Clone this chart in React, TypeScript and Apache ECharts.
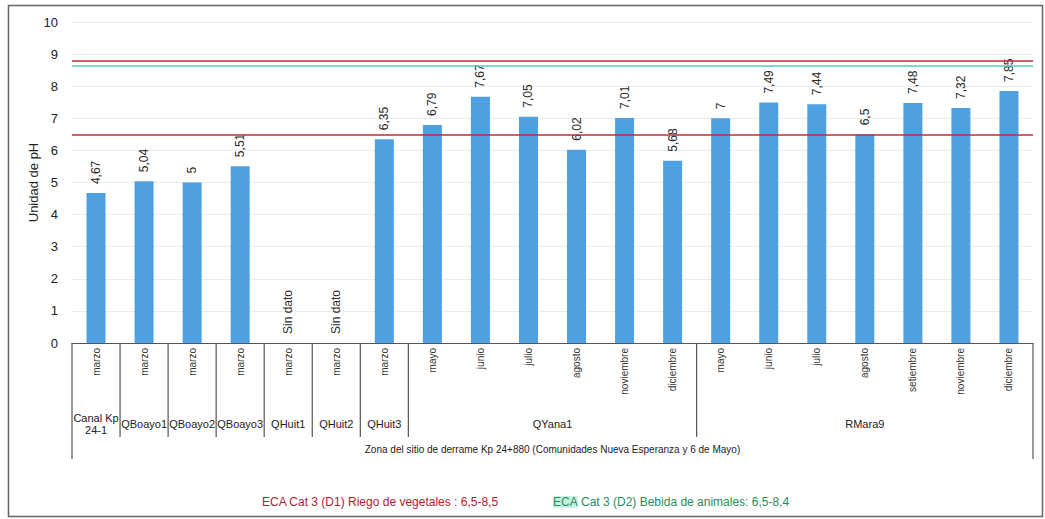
import React, { useEffect, useRef } from "react";
import * as echarts from "echarts";

const months = [
  "marzo", "marzo", "marzo", "marzo", "marzo", "marzo", "marzo",
  "mayo", "junio", "julio", "agosto", "noviembre", "diciembre",
  "mayo", "junio", "julio", "agosto", "setiembre", "noviembre", "diciembre",
];
const phValues: (number | null)[] = [
  4.67, 5.04, 5, 5.51, null, null, 6.35,
  6.79, 7.67, 7.05, 6.02, 7.01, 5.68,
  7, 7.49, 7.44, 6.5, 7.48, 7.32, 7.85,
];
const sites = ["Canal Kp\n24-1", "QBoayo1", "QBoayo2", "QBoayo3", "QHuit1", "QHuit2", "QHuit3", "QYana1", "RMara9"];
const siteSpans = [1, 1, 1, 1, 1, 1, 1, 6, 7];
const zoneTitle = "Zona del sitio de derrame Kp 24+880 (Comunidades Nueva Esperanza y 6 de Mayo)";
const noDataLabel = "Sin dato";
const yAxisName = "Unidad de pH";
const limitD1Upper = 8.8;
const limitD2Upper = 8.65;
const limitLower = 6.5;
const legendD1 = "ECA Cat 3 (D1) Riego de vegetales : 6,5-8,5";
const legendD2Prefix = "ECA";
const legendD2Rest = " Cat 3 (D2) Bebida de animales: 6,5-8,4";

const FONT = "'Liberation Sans', Arial, sans-serif";
const RED = "#c42a3c";
const TEAL = "#58c9c2";
const BAR = "#4fa0e0";

export default function App() {
  const ref = useRef<HTMLDivElement>(null);

  useEffect(() => {
    if (!ref.current) return;
    const chart = echarts.init(ref.current, null, { renderer: "svg" });
    const fmt = (v: number) => String(v).replace(".", ",");

    chart.setOption({
      animation: false,
      backgroundColor: "#ffffff",
      grid: { left: 72, right: 12, top: 22, bottom: 176, containLabel: false },
      xAxis: {
        type: "category",
        data: months,
        boundaryGap: true,
        axisLine: { lineStyle: { color: "#555", width: 1.2 } },
        axisTick: { show: false },
        axisLabel: {
          interval: 0,
          rotate: 90,
          fontSize: 10,
          color: "#333",
          fontFamily: FONT,
          margin: 5,
        },
        splitLine: { show: false },
      },
      yAxis: {
        type: "value",
        min: 0,
        max: 10,
        interval: 1,
        name: yAxisName,
        nameLocation: "middle",
        nameGap: 32,
        nameMoveOverlap: false,
        nameRotate: 90,
        nameTextStyle: { fontSize: 13, color: "#222", fontFamily: FONT },
        axisLine: { show: false },
        axisTick: { show: false },
        axisLabel: { fontSize: 13, color: "#222", fontFamily: FONT, margin: 14 },
        splitLine: { lineStyle: { color: "#ebebeb", width: 1 } },
      },
      series: [
        {
          type: "bar",
          barWidth: 19,
          itemStyle: { color: BAR },
          data: phValues.map((v) =>
            v === null
              ? { value: 0, label: { formatter: noDataLabel } }
              : v
          ),
          label: {
            show: true,
            position: "top",
            rotate: 90,
            align: "left",
            verticalAlign: "middle",
            distance: 9,
            fontSize: 12,
            color: "#2a2a2a",
            fontFamily: FONT,
            formatter: (p: any) => fmt(p.value),
          },
          markLine: {
            silent: true,
            symbol: "none",
            label: { show: false },
            lineStyle: { type: "solid", width: 1.6 },
            data: [
              { yAxis: limitD1Upper, lineStyle: { color: RED, type: "solid", width: 1.6 } },
              { yAxis: limitD2Upper, lineStyle: { color: TEAL, type: "solid", width: 1.6 } },
              { yAxis: limitLower, lineStyle: { color: RED, type: "solid", width: 1.6 } },
            ],
          },
        },
      ],
    });

    // Build the table-like x axis from the chart's own scale
    const cx = (i: number) => chart.convertToPixel({ xAxisIndex: 0 }, i) as number;
    const y0 = chart.convertToPixel({ yAxisIndex: 0 }, 0) as number;
    const step = cx(1) - cx(0);
    const boundary = (i: number) => cx(0) - step / 2 + i * step;

    const graphics: any[] = [];
    graphics.push({
      type: "rect",
      shape: { x: 8.5, y: 5.5, width: 1034, height: 511 },
      style: { fill: "none", stroke: "#666", lineWidth: 1.5 },
      silent: true,
    });

    let start = 0;
    const groupBottom = y0 + 94;
    const outerBottom = y0 + 116;
    sites.forEach((name, gi) => {
      const span = siteSpans[gi];
      const xl = boundary(start);
      const xr = boundary(start + span);
      graphics.push({
        type: "line",
        shape: { x1: xl, y1: y0, x2: xl, y2: gi === 0 ? outerBottom : groupBottom },
        style: { stroke: "#555", lineWidth: 1.2 },
        silent: true,
      });
      graphics.push({
        type: "text",
        x: (xl + xr) / 2,
        y: y0 + 81,
        style: {
          text: name,
          fontSize: 11,
          fontFamily: FONT,
          fill: "#222",
          align: "center",
          verticalAlign: "middle",
          lineHeight: 12,
        },
        silent: true,
      });
      start += span;
      if (gi === sites.length - 1) {
        graphics.push({
          type: "line",
          shape: { x1: xr, y1: y0, x2: xr, y2: outerBottom },
          style: { stroke: "#555", lineWidth: 1.2 },
          silent: true,
        });
      }
    });

    graphics.push({
      type: "text",
      x: (boundary(0) + boundary(months.length)) / 2,
      y: y0 + 106,
      style: {
        text: zoneTitle,
        fontSize: 10,
        fontFamily: FONT,
        fill: "#222",
        align: "center",
        verticalAlign: "middle",
      },
      silent: true,
    });

    graphics.push({
      type: "text",
      x: 262,
      y: 502,
      style: {
        text: legendD1,
        fontSize: 12,
        fontFamily: FONT,
        fill: "#b01c2e",
        align: "left",
        verticalAlign: "middle",
      },
      silent: true,
    });
    graphics.push({
      type: "text",
      x: 553,
      y: 502,
      style: {
        text: "{h|" + legendD2Prefix + "}{t|" + legendD2Rest + "}",
        fontFamily: FONT,
        align: "left",
        verticalAlign: "middle",
        rich: {
          h: { fontSize: 12, fontFamily: FONT, fill: "#2a8c5c", backgroundColor: "#c8f0e4" },
          t: { fontSize: 12, fontFamily: FONT, fill: "#2a8c5c" },
        },
      },
      silent: true,
    });

    chart.setOption({ graphic: graphics });

    return () => chart.dispose();
  }, []);

  return (
    <div
      ref={ref}
      style={{ position: "absolute", left: 0, top: 0, width: 1045, height: 519 }}
    />
  );
}
